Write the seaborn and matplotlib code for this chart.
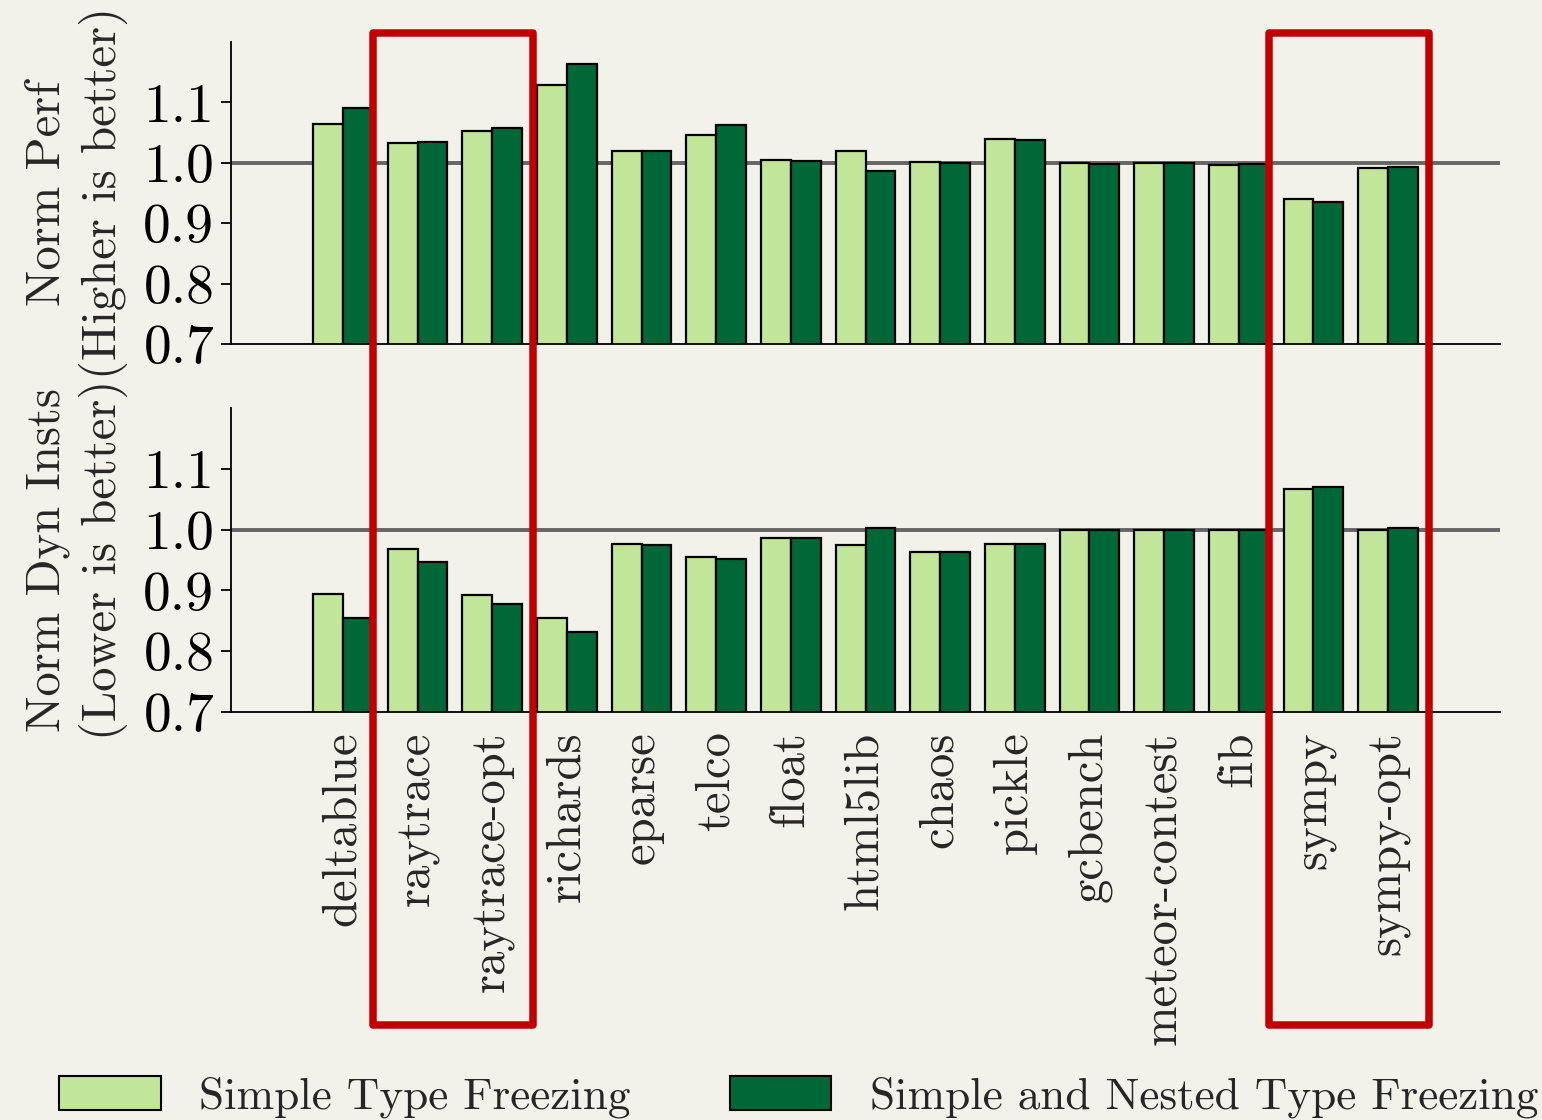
import numpy as np
import pandas as pd
import matplotlib
matplotlib.use("Agg")
import matplotlib.pyplot as plt
import seaborn as sns
from matplotlib.patches import Patch, Rectangle
from matplotlib.transforms import blended_transform_factory

# ---- data -------------------------------------------------------------
benchmarks = ["deltablue", "raytrace", "raytrace-opt", "richards", "eparse",
              "telco", "float", "html5lib", "chaos", "pickle", "gcbench",
              "meteor-contest", "fib", "sympy", "sympy-opt"]
configs = ["Simple Type Freezing", "Simple and Nested Type Freezing"]

perf_simple = [1.064, 1.033, 1.052, 1.128, 1.019, 1.046, 1.004, 1.020,
               1.001, 1.039, 1.000, 1.000, 0.996, 0.940, 0.992]
perf_nested = [1.090, 1.035, 1.058, 1.164, 1.020, 1.063, 1.003, 0.987,
               0.999, 1.038, 0.998, 1.000, 0.998, 0.935, 0.993]

insts_simple = [0.894, 0.968, 0.893, 0.854, 0.977, 0.955, 0.986, 0.974,
                0.963, 0.977, 1.000, 1.000, 1.000, 1.066, 1.000]
insts_nested = [0.855, 0.947, 0.877, 0.832, 0.974, 0.952, 0.986, 1.002,
                0.963, 0.977, 1.000, 1.000, 1.000, 1.070, 1.002]

yticks = [0.7, 0.8, 0.9, 1.0, 1.1]
highlight_groups = [("raytrace", "raytrace-opt"), ("sympy", "sympy-opt")]

# ---- styling ----------------------------------------------------------
BG = "#f2f2ea"
LIGHT = "#c2e699"
DARK = "#006837"
palette = {configs[0]: LIGHT, configs[1]: DARK}

sns.set_style("ticks", rc={"axes.facecolor": BG, "figure.facecolor": BG})
plt.rcParams["font.family"] = ["cmr10", "DejaVu Serif"]
plt.rcParams["axes.formatter.use_mathtext"] = True
plt.rcParams["axes.unicode_minus"] = False

df = pd.DataFrame({
    "benchmark": benchmarks * 2,
    "config": [configs[0]] * len(benchmarks) + [configs[1]] * len(benchmarks),
    "perf": perf_simple + perf_nested,
    "insts": insts_simple + insts_nested,
})

fig = plt.figure(figsize=(15.42, 11.2), dpi=100)
ax_top = fig.add_axes([0.1498, 0.6929, 0.8230, 0.2696])
ax_bot = fig.add_axes([0.1498, 0.3643, 0.8230, 0.2714])

panels = [
    (ax_top, "perf", "Norm Perf\n(Higher is better)"),
    (ax_bot, "insts", "Norm Dyn Insts\n(Lower is better)"),
]

for ax, col, label in panels:
    ax.axhline(1.0, color="#666666", lw=2.8, zorder=0.5)
    sns.barplot(data=df, x="benchmark", y=col, hue="config",
                order=benchmarks, hue_order=configs, palette=palette,
                edgecolor="black", linewidth=1.6, width=0.8,
                saturation=1, errorbar=None, legend=False, ax=ax)
    ax.set_xlim(-1.5, 15.5)
    ax.set_ylim(0.7, 1.2)
    ax.set_yticks(yticks)
    ax.set_yticklabels([f"{v:.1f}" for v in yticks], fontsize=40)
    ax.set_ylabel(label, fontsize=35, linespacing=1.25)
    ax.yaxis.set_label_coords(-0.081, 0.5)
    ax.set_xlabel("")
    sns.despine(ax=ax)
    for s in ("left", "bottom"):
        ax.spines[s].set_color("black")
        ax.spines[s].set_linewidth(1.3)
    ax.tick_params(axis="y", length=7, width=1.3, pad=5, colors="black")
    ax.tick_params(axis="x", length=0)
    ax.set_facecolor(BG)

ax_top.set_xticklabels([])
ax_bot.set_xticks(range(len(benchmarks)))
ax_bot.set_xticklabels(benchmarks, rotation=90, fontsize=35)
ax_bot.tick_params(axis="x", pad=14)

# highlight boxes around the benchmark pairs
trans = blended_transform_factory(ax_bot.transData, fig.transFigure)
for first, last in highlight_groups:
    i0 = benchmarks.index(first)
    i1 = benchmarks.index(last)
    x0 = i0 - 0.596
    x1 = i1 + 0.545
    rect = Rectangle((x0, 0.0848), x1 - x0, 0.9705 - 0.0848,
                     transform=trans, fill=False, edgecolor="#c00000",
                     linewidth=5.4, joinstyle="round", clip_on=False,
                     zorder=10)
    fig.add_artist(rect)

handles = [Patch(facecolor=palette[c], edgecolor="black", linewidth=1.5)
           for c in configs]
fig.legend(handles, configs, loc="center", bbox_to_anchor=(0.518, 0.0205),
           ncol=2, frameon=False, fontsize=32.5, handlelength=2.25,
           handleheight=0.78, handletextpad=0.85, columnspacing=2.2,
           borderpad=0.1)

fig.savefig("out.png", dpi=100, facecolor=BG)
